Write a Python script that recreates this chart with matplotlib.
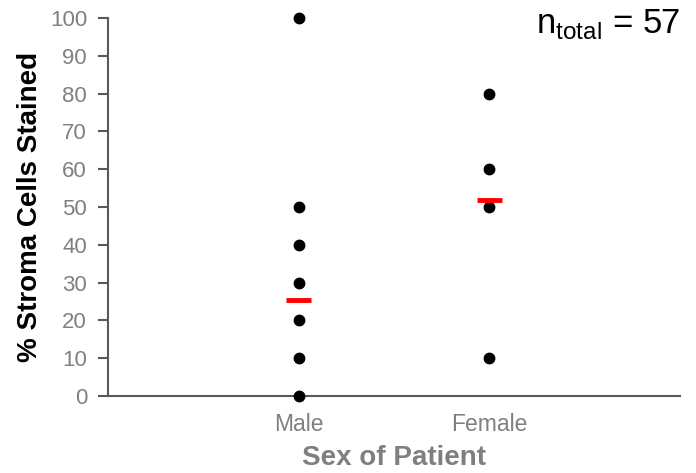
import matplotlib
matplotlib.use("Agg")
import matplotlib.pyplot as plt

plt.rcParams['font.family'] = ['Liberation Sans', 'DejaVu Sans']

categories = ["Male", "Female"]
male_values = [100, 50, 40, 30, 20, 10, 0]
female_values = [80, 60, 50, 10]
means = [25.5, 51.8]
y_ticks = [0, 10, 20, 30, 40, 50, 60, 70, 80, 90, 100]
n_total = 57

fig = plt.figure(figsize=(6.96, 4.73), dpi=100)
ax = fig.add_axes([0.155, 0.163, 0.822, 0.799])

xpos = [1, 2]
for x, vals in zip(xpos, [male_values, female_values]):
    ax.plot([x] * len(vals), vals, 'o', color='black', markersize=7.5, zorder=3, clip_on=False)
for x, m in zip(xpos, means):
    ax.plot([x - 0.065, x + 0.065], [m, m], color='#ff0000', linewidth=3.5, solid_capstyle='butt', zorder=4)

ax.set_xlim(0, 3)
ax.set_ylim(0, 100)
ax.set_yticks(y_ticks)
ax.set_xticks(xpos)
ax.set_xticklabels(categories)

for s in ['top', 'right']:
    ax.spines[s].set_visible(False)
for s in ['left', 'bottom']:
    ax.spines[s].set_color('#595959')
    ax.spines[s].set_linewidth(1.5)

ax.tick_params(axis='y', colors='#595959', length=7, width=1.5, labelcolor='#808080', labelsize=16, pad=8)
ax.tick_params(axis='x', length=0, labelcolor='#808080', labelsize=16.5, pad=12)

ax.set_ylabel('% Stroma Cells Stained', fontsize=20, fontweight='bold', color='black', labelpad=5)
ax.set_xlabel('Sex of Patient', fontsize=20, fontweight='bold', color='#7f7f7f', labelpad=7)

fig.text(0.978, 0.985, r'n$_{\mathregular{total}}$ = ' + str(n_total), fontsize=25, ha='right', va='top', color='black')

fig.savefig('out.png', dpi=100)
